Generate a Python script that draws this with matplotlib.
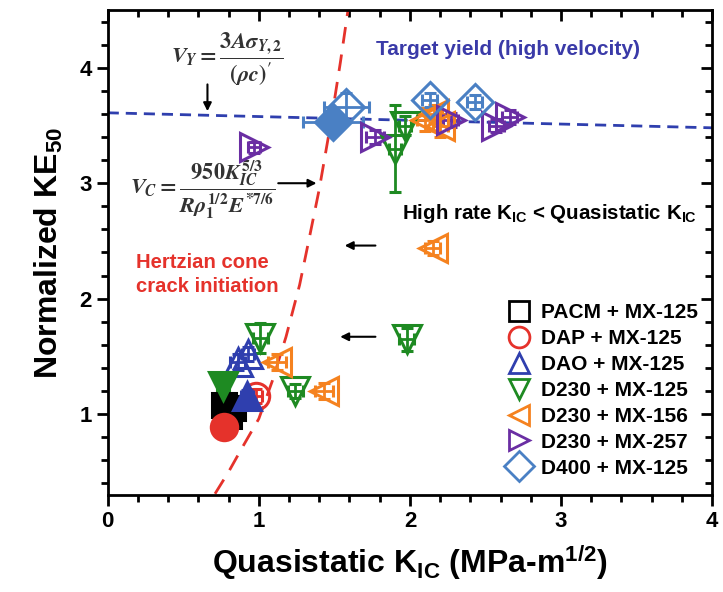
import matplotlib
matplotlib.use("Agg")
import matplotlib.pyplot as plt
from matplotlib.lines import Line2D

plt.rcParams['font.family'] = ['Liberation Sans', 'DejaVu Sans']
plt.rcParams['font.weight'] = 'bold'
plt.rcParams['mathtext.fontset'] = 'custom'
plt.rcParams['mathtext.rm'] = 'Liberation Sans:bold'
plt.rcParams['mathtext.bf'] = 'Liberation Sans:bold'
plt.rcParams['mathtext.it'] = 'Liberation Sans:bold'

# ---- data ----
series_names = ["PACM + MX-125", "DAP + MX-125", "DAO + MX-125", "D230 + MX-125",
                "D230 + MX-156", "D230 + MX-257", "D400 + MX-125"]
series_colors = ["black", "#e5322b", "#2f3fae", "#1e8a22", "#f5821f", "#6a2ea3", "#4a80c4"]
series_markers = ["s", "o", "^", "v", "<", ">", "D"]

# x = quasistatic KIC, y = normalized KE50, filled flag, x error, y error
pacm_x = [0.77, 0.83, 0.80]
pacm_y = [1.08, 1.05, 0.98]
pacm_filled = [True, True, True]
pacm_xerr = [0.04, 0.04, 0.03]
pacm_yerr = [0.05, 0.05, 0.04]

dap_x = [0.77, 0.98]
dap_y = [0.89, 1.16]
dap_filled = [True, False]
dap_xerr = [0.03, 0.04]
dap_yerr = [0.04, 0.06]

dao_x = [0.92, 0.86, 0.93]
dao_y = [1.16, 1.45, 1.52]
dao_filled = [True, False, False]
dao_xerr = [0.04, 0.05, 0.04]
dao_yerr = [0.05, 0.07, 0.06]

d230_125_x = [0.76, 1.01, 1.24, 1.98, 1.90, 1.97]
d230_125_y = [1.24, 1.66, 1.20, 1.65, 3.30, 3.50]
d230_125_filled = [True, False, False, False, False, False]
d230_125_xerr = [0.04, 0.05, 0.05, 0.05, 0.04, 0.04]
d230_125_yerr = [0.05, 0.13, 0.06, 0.10, 0.38, 0.08]

d230_156_x = [1.12, 1.43, 2.15, 2.10, 2.20, 2.16]
d230_156_y = [1.45, 1.20, 2.44, 3.55, 3.50, 3.60]
d230_156_filled = [False, False, False, False, False, False]
d230_156_xerr = [0.06, 0.06, 0.05, 0.05, 0.05, 0.05]
d230_156_yerr = [0.07, 0.07, 0.06, 0.10, 0.10, 0.08]

d230_257_x = [0.97, 1.77, 2.57, 2.66, 2.27]
d230_257_y = [3.31, 3.40, 3.50, 3.57, 3.55]
d230_257_filled = [False, False, False, False, False]
d230_257_xerr = [0.04, 0.06, 0.05, 0.05, 0.05]
d230_257_yerr = [0.05, 0.06, 0.06, 0.06, 0.06]

d400_x = [1.49, 1.58, 2.13, 2.43]
d400_y = [3.53, 3.66, 3.72, 3.70]
d400_filled = [True, False, False, False]
d400_xerr = [0.20, 0.15, 0.05, 0.05]
d400_yerr = [0.08, 0.12, 0.06, 0.06]

all_series = [
    (pacm_x, pacm_y, pacm_filled, pacm_xerr, pacm_yerr),
    (dap_x, dap_y, dap_filled, dap_xerr, dap_yerr),
    (dao_x, dao_y, dao_filled, dao_xerr, dao_yerr),
    (d230_125_x, d230_125_y, d230_125_filled, d230_125_xerr, d230_125_yerr),
    (d230_156_x, d230_156_y, d230_156_filled, d230_156_xerr, d230_156_yerr),
    (d230_257_x, d230_257_y, d230_257_filled, d230_257_xerr, d230_257_yerr),
    (d400_x, d400_y, d400_filled, d400_xerr, d400_yerr),
]

# model lines
yield_x = [0.0, 4.0]
yield_y = [3.61, 3.48]
cone_x = [0.71, 0.80, 0.89, 1.00, 1.09, 1.18, 1.27, 1.33, 1.40, 1.48, 1.54, 1.59]
cone_y = [0.31, 0.50, 0.71, 0.96, 1.29, 1.67, 2.12, 2.50, 2.95, 3.55, 4.05, 4.50]

# ---- plot ----
fig = plt.figure(figsize=(7.23, 5.92), dpi=100)
ax = fig.add_axes([0.149, 0.164, 0.836, 0.819])

ax.plot(yield_x, yield_y, ls=(0, (4, 2.5)), color="#2f3fae", lw=2, zorder=1)
ax.plot(cone_x, cone_y, ls=(0, (6, 4)), color="#e5322b", lw=2, zorder=1)

for i, (xs, ys, fl, xe, ye) in enumerate(all_series):
    c = series_colors[i]
    m = series_markers[i]
    size = {"s": 17, "o": 19, "D": 18}.get(m, 20)
    for x, y, f, dx, dy in zip(xs, ys, fl, xe, ye):
        ax.errorbar(x, y, xerr=dx, yerr=dy, fmt=m, ms=size,
                    mfc=c if f else "none", mec=c, mew=2.2, ecolor=c, elinewidth=2,
                    capsize=4, capthick=2, zorder=3)

ax.set_xlim(0, 4)
ax.set_ylim(0.3, 4.5)
xmaj = [0, 1, 2, 3, 4]
ymaj = [1, 2, 3, 4]
xmin = [i * 0.2 for i in range(21)]
ymin = [0.4 + i * 0.2 for i in range(21)]
ax.set_xticks(xmaj)
ax.set_yticks(ymaj)
ax.set_xticks(xmin, minor=True)
ax.set_yticks(ymin, minor=True)
ax.tick_params(axis='both', which='major', length=8, width=2, labelsize=16, direction='out')
ax.tick_params(axis='both', which='minor', length=5, width=2, direction='out')
for sp in ax.spines.values():
    sp.set_linewidth(2)

# inward ticks on top and right
top = ax.secondary_xaxis('top')
top.set_xticks(xmaj)
top.set_xticks(xmin, minor=True)
top.tick_params(which='major', direction='in', length=8, width=2, labeltop=False)
top.tick_params(which='minor', direction='in', length=5, width=2)
right = ax.secondary_yaxis('right')
right.set_yticks(ymaj)
right.set_yticks(ymin, minor=True)
right.tick_params(which='major', direction='in', length=8, width=2, labelright=False)
right.tick_params(which='minor', direction='in', length=5, width=2)

ax.set_xlabel(r"Quasistatic K$_{\mathrm{IC}}$ (MPa-m$^{\mathrm{1/2}}$)", fontsize=23, fontweight='bold', labelpad=8)
ax.set_ylabel(r"Normalized KE$_{\mathrm{50}}$", fontsize=23, fontweight='bold', labelpad=10)

# annotations
ax.text(2.65, 4.16, "Target yield (high velocity)", color="#3a3aa8", fontsize=15,
        fontweight='bold', ha='center', va='center')
ax.text(1.95, 2.74, r"High rate K$_{\mathrm{IC}}$ < Quasistatic K$_{\mathrm{IC}}$", color="black",
        fontsize=14.8, fontweight='bold', ha='left', va='center')
ax.text(0.19, 2.21, "Hertzian cone\ncrack initiation", color="#e5322b", fontsize=14.6,
        fontweight='bold', ha='left', va='center', linespacing=1.35)
ax.text(0.79, 4.07, r"$V_Y = \dfrac{3A\sigma_{Y,2}}{(\rho c)^{\prime}}$", color="#333333",
        fontsize=16, ha='center', va='center', math_fontfamily='stix')
ax.text(0.63, 2.94, r"$V_C = \dfrac{950K_{IC}^{5/3}}{R\rho_1^{1/2}E^{*7/6}}$", color="#333333",
        fontsize=16, ha='center', va='center', math_fontfamily='stix')

arrow = dict(arrowstyle='-|>', color='black', lw=1.5, mutation_scale=12)
ax.annotate("", xy=(0.66, 3.60), xytext=(0.66, 3.88), arrowprops=arrow)
ax.annotate("", xy=(1.40, 3.0), xytext=(1.11, 3.0), arrowprops=arrow)
ax.annotate("", xy=(1.55, 2.46), xytext=(1.79, 2.46), arrowprops=arrow)
ax.annotate("", xy=(1.52, 1.67), xytext=(1.79, 1.67), arrowprops=arrow)

handles = [Line2D([], [], ls='none', marker=m, ms=15, mfc='none', mec=c, mew=2)
           for m, c in zip(series_markers, series_colors)]
ax.legend(handles, series_names, loc='lower right', bbox_to_anchor=(0.998, 0.01), frameon=False,
          handletextpad=0.3, labelspacing=0.33, borderaxespad=0.2, handlelength=1.6,
          prop={'weight': 'bold', 'size': 15})

fig.savefig("out.png", dpi=100)
